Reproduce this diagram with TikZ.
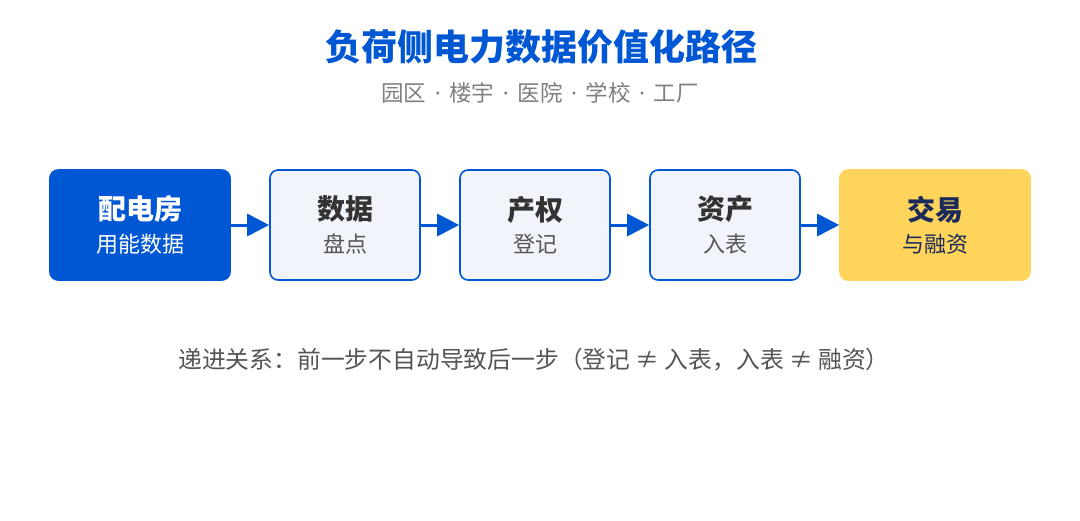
\documentclass[tikz,border=0pt]{standalone}
\usepackage{fontspec}
\setmainfont{Noto Sans CJK SC}
\newfontfamily\latinfont{Noto Sans}
\usetikzlibrary{arrows.meta}
\definecolor{mainblue}{HTML}{0057D3}
\definecolor{lightfill}{HTML}{F1F5FB}
\definecolor{gold}{HTML}{FFD45A}
\definecolor{navy}{HTML}{1A2A5A}
\definecolor{darktxt}{HTML}{333333}
\definecolor{subtxt}{HTML}{555555}
\definecolor{graytxt}{HTML}{808080}
\tikzset{
  stagebox/.style={rounded corners=8pt, minimum width=150pt, minimum height=110pt, draw=mainblue, line width=1.6pt, fill=lightfill, inner sep=0pt},
  flowarrow/.style={draw=mainblue, line width=3pt, -{Triangle[length=22pt,width=22pt]}},
}
\newcommand{\stagetext}[4]{\shortstack{{\color{#3}\fontsize{28}{32}\selectfont\bfseries #1}\\[8pt]{\color{#4}\fontsize{22}{26}\selectfont #2}}}
\newcommand{\sep}{{\latinfont\hspace{8.5pt}·\hspace{8.5pt}}}
\begin{document}
\begin{tikzpicture}[x=1pt,y=-1pt]
\useasboundingbox (0,0) rectangle (1080,520);
\fill[white] (0,0) rectangle (1080,520);
\node[text=mainblue, font=\fontsize{36}{42}\selectfont\bfseries] (title) at (541,47) {负荷侧电力数据价值化路径};
\node[text=graytxt, font=\fontsize{22.5}{26}\selectfont] (subtitle) at (540,93) {园区\sep 楼宇\sep 医院\sep 学校\sep 工厂};
\node[stagebox, minimum width=180pt, fill=mainblue, draw=mainblue] (s1) at (140,225) {\stagetext{配电房}{用能数据}{white}{white}};
\node[stagebox] (s2) at (345,225) {\stagetext{数据}{盘点}{darktxt}{subtxt}};
\node[stagebox] (s3) at (535,225) {\stagetext{产权}{登记}{darktxt}{subtxt}};
\node[stagebox] (s4) at (725,225) {\stagetext{资产}{入表}{darktxt}{subtxt}};
\node[stagebox, minimum width=190pt, fill=gold, draw=gold] (s5) at (935,225) {\stagetext{交易}{与融资}{navy}{navy}};
\draw[flowarrow] (s1) -- (s2);
\draw[flowarrow] (s2) -- (s3);
\draw[flowarrow] (s3) -- (s4);
\draw[flowarrow] (s4) -- (s5);
\node[text=subtxt, font=\fontsize{23.8}{28}\selectfont] (note) at (534,360) {递进关系：前一步不自动导致后一步（登记 ≠ 入表，入表 ≠ 融资）};
\end{tikzpicture}
\end{document}
